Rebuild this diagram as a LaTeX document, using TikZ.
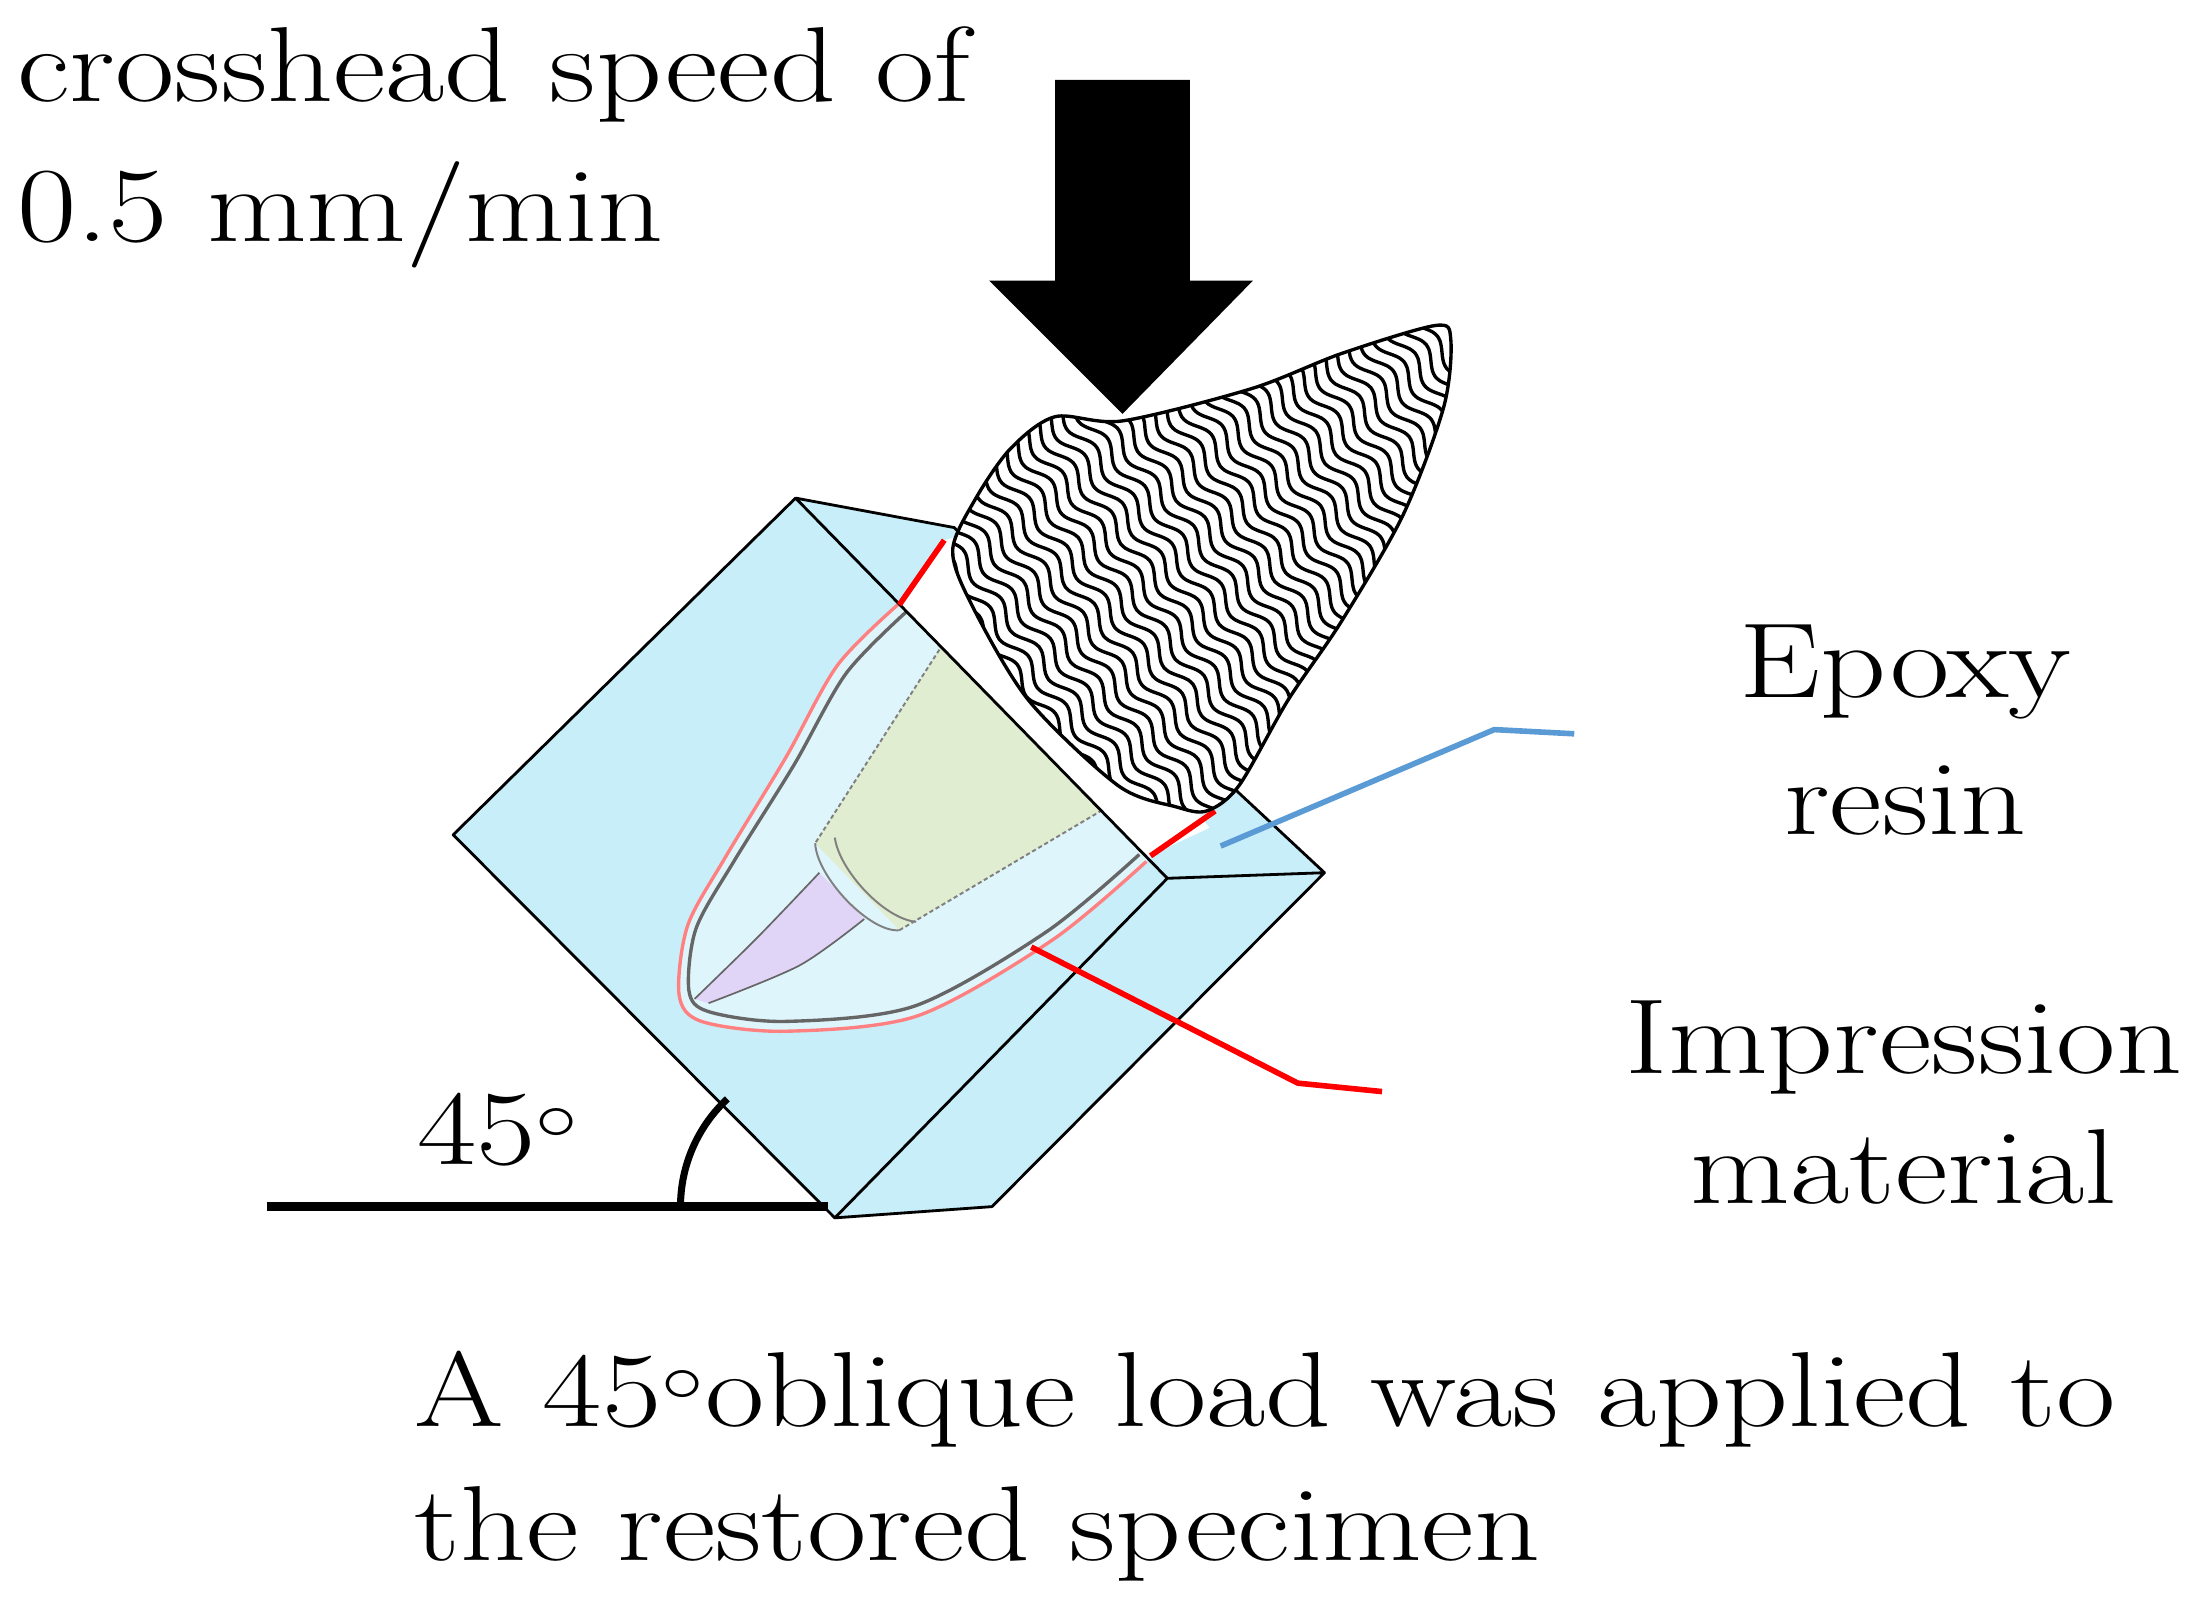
\documentclass[tikz,border=0pt]{standalone}
\usetikzlibrary{calc}
\tikzset{
  lbl/.style={font=\fontsize{38}{40}\selectfont, inner sep=0pt},
}
\newcommand{\widetxt}[1]{\scalebox{1.21}[1]{#1}}
\definecolor{resin}{HTML}{C8EEFA}
\definecolor{rootc}{HTML}{DFF5FC}
\definecolor{postc}{HTML}{E0EDD0}
\definecolor{yel}{HTML}{F8EBA0}
\definecolor{purp}{HTML}{E0D4F7}
\definecolor{bluel}{HTML}{5B9BD5}
\begin{document}
\begin{tikzpicture}[x=0.5pt,y=-0.5pt]
\useasboundingbox (0,0) rectangle (1568,1143);
% box
\coordinate (A) at (323,595); \coordinate (B) at (567,355); \coordinate (C) at (832,626);
\coordinate (D) at (595,868); \coordinate (E) at (680,376); \coordinate (F) at (944,622);
\coordinate (G) at (707,860);
\fill[resin] (A)--(B)--(C)--(D)--cycle;
\fill[resin] (B)--(E)--(F)--(C)--cycle;
\fill[resin] (C)--(F)--(G)--(D)--cycle;
% root
\fill[rootc] plot[smooth] coordinates {(673,385) (641,430) (597,474) (560,540) (517,611) (490,660) (484,709) (500,728) (560,735) (654,724) (750,670) (817,614) (864,579)} -- cycle;
\draw[red!50, line width=1.2pt] plot[smooth] coordinates {(641,430) (597,474) (560,540) (517,611) (490,660) (484,709) (500,728) (560,735) (654,724) (750,670) (817,614)};
\draw[black!60, line width=1.2pt] plot[smooth] coordinates {(646,436) (603,480) (566,545) (523,614) (496,662) (491,706) (505,721) (560,728) (652,717) (746,664) (812,609)};
% purple canal
\fill[purp] plot[smooth] coordinates {(584,622) (540,668) (495,712)} -- plot[smooth] coordinates {(505,715) (570,688) (616,655)} -- cycle;
\draw[black!60, line width=0.6pt] plot[smooth] coordinates {(584,622) (540,668) (495,712)};
\draw[black!60, line width=0.6pt] plot[smooth] coordinates {(505,715) (570,688) (616,655)};
% yellow and post
\fill[yel] (686,442)--(705,430)--(810,560)--(790,578)--cycle;
\fill[postc] (683,442)--(788,576)--(641,663)--(581,601)--cycle;
\draw[black!50, line width=0.7pt, dash pattern=on 1.5pt off 1pt] (683,442)--(581,601);
\draw[black!50, line width=0.7pt, dash pattern=on 1.5pt off 1pt] (641,663)--(788,576);
\draw[black!50, line width=0.7pt] (581,601) .. controls (582,625) and (620,665) .. (641,663);
\draw[black!50, line width=0.7pt] (595,597) .. controls (598,620) and (630,655) .. (653,657);
% white part above resin
\fill[white] (641,431)--(673,385)--(700,378)--(862,590)--(817,611)--cycle;
\draw[black, line width=1pt, line join=round] (A)--(B)--(C)--(D)--cycle (B)--(E)--(F)--(C) (F)--(G)--(D);
\draw[red, line width=2pt] (641,431)--(673,385);
\draw[red, line width=2pt] (820,610)--(866,578);
% crown
\def\crownpath{plot[smooth cycle] coordinates {(752,297) (800,300) (892,277) (956,252) (1023,232) (1034,242) (1029,290) (1000,367) (956,443) (918,499) (883,560) (860,578) (838,575) (797,560) (733,499) (692,430) (679,392) (695,356) (720,320)}}
\fill[white] \crownpath;
\begin{scope}
\clip \crownpath;
\foreach \i in {-36,...,36}{
  \draw[line width=1.2pt] plot[domain=-330:330, samples=150, smooth]
   ({860 + 0.616*\x + 0.788*(4.5*sin(\x*8.2) + \i*10)}, {410 + 0.788*\x - 0.616*(4.5*sin(\x*8.2) + \i*10)});
}
\end{scope}
\draw[line width=1.2pt] \crownpath;
% arrow
\fill[black] (752,57)--(848,57)--(848,200)--(893,200)--(800,295)--(705,200)--(752,200)--cycle;
% base line and angle
\coordinate (L0) at (190,860); \coordinate (L1) at (590,860);
\draw[line width=3pt] (L0)--(L1);
\draw[line width=2.5pt] (485,860) arc[start angle=180, end angle=227, radius=105];
\node[lbl, anchor=base west] (ang) at (297,830) {\widetxt{45$^\circ$}};
% labels
\node[lbl, anchor=base west] (t1) at (12,72) {\widetxt{crosshead speed of}};
\node[lbl, anchor=base west] (t2) at (12,172) {\widetxt{0.5 mm/min}};
\node[lbl, anchor=base] (ep1) at (1358,497) {\widetxt{Epoxy}};
\node[lbl, anchor=base] (ep2) at (1358,595) {\widetxt{resin}};
\node[lbl, anchor=base] (im1) at (1357,765) {\widetxt{Impression}};
\node[lbl, anchor=base] (im2) at (1357,858) {\widetxt{material}};
\node[lbl, anchor=base west] (b1) at (295,1017) {\widetxt{A 45$^\circ$oblique load was applied to}};
\node[lbl, anchor=base west] (b2) at (295,1112) {\widetxt{the restored specimen}};
% connectors
\coordinate (e0) at (870,603); \coordinate (e1) at (1065,520); \coordinate (e2) at (1122,523);
\draw[bluel, line width=2pt] (e0)--(e1)--(e2);
\coordinate (r0) at (735,675); \coordinate (r1) at (925,772); \coordinate (r2) at (985,778);
\draw[red, line width=2pt] (r0)--(r1)--(r2);
\end{tikzpicture}
\end{document}
